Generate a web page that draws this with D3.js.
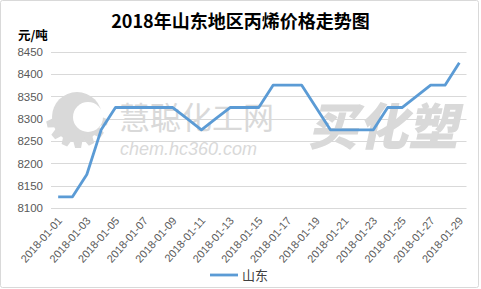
<!DOCTYPE html>
<html>
<head>
<meta charset="utf-8">
<script src="https://cdn.jsdelivr.net/npm/d3@7"></script>
<style>
  html, body { margin: 0; padding: 0; background: #fff; }
  svg { display: block; }
</style>
</head>
<body>
<div id="chart"></div>
<script>
// data
const dates = [
  '2018-01-01','2018-01-02','2018-01-03','2018-01-04','2018-01-05','2018-01-06',
  '2018-01-07','2018-01-08','2018-01-09','2018-01-10','2018-01-11','2018-01-12',
  '2018-01-13','2018-01-14','2018-01-15','2018-01-16','2018-01-17','2018-01-18',
  '2018-01-19','2018-01-20','2018-01-21','2018-01-22','2018-01-23','2018-01-24',
  '2018-01-25','2018-01-26','2018-01-27','2018-01-28','2018-01-29'
];
const shandong = [
  8125, 8125, 8175, 8275, 8325, 8325, 8325, 8325, 8325, 8300,
  8275, 8300, 8325, 8325, 8325, 8375, 8375, 8375, 8325, 8275,
  8275, 8275, 8275, 8325, 8325, 8350, 8375, 8375, 8425
];
const yTicks = [8100, 8150, 8200, 8250, 8300, 8350, 8400, 8450];
const title = '2018年山东地区丙烯价格走势图';
const unit = '元/吨';
const seriesName = '山东';

const width = 481, height = 289;
const plot = { left: 51, right: 466.5, top: 51.7, bottom: 208 };

const svg = d3.select('#chart').append('svg')
  .attr('width', width)
  .attr('height', height)
  .style('font-family', '"Noto Sans CJK SC", "Liberation Sans", sans-serif');

// outer frame
svg.append('rect')
  .attr('x', 0.5).attr('y', 0.5)
  .attr('width', width - 3).attr('height', height - 2)
  .attr('rx', 2)
  .attr('fill', '#fff')
  .attr('stroke', '#d9d9d9');

const x = d3.scalePoint()
  .domain(dates)
  .range([plot.left, plot.right])
  .padding(0.5);

const y = d3.scaleLinear()
  .domain([8100, 8450])
  .range([plot.bottom, plot.top]);

// gridlines
svg.append('g')
  .selectAll('line')
  .data(yTicks)
  .join('line')
  .attr('x1', plot.left).attr('x2', plot.right)
  .attr('y1', d => Math.round(y(d)) + 0.5)
  .attr('y2', d => Math.round(y(d)) + 0.5)
  .attr('stroke', '#d9d9d9')
  .attr('stroke-width', 1);

// watermark
const wm = svg.append('g').attr('fill', '#d9d9d9');
wm.append('circle').attr('cx', 77).attr('cy', 117).attr('r', 25);
wm.selectAll('path.tooth')
  .data(d3.range(7))
  .join('path')
  .attr('class', 'tooth')
  .attr('transform', i => `translate(77,117) rotate(${100 + i * 26})`)
  .attr('d', 'M-5,-22 L5,-22 L3,-31 L-3,-31 Z');
wm.append('circle').attr('cx', 88).attr('cy', 117).attr('r', 15).attr('fill', '#fff');
wm.append('text')
  .attr('x', 119).attr('y', 129)
  .style('font-size', '31px')
  .style('font-family', '"Noto Sans CJK SC", sans-serif')
  .style('font-weight', 400)
  .text('慧聪化工网');
wm.append('text')
  .attr('x', 120).attr('y', 155)
  .style('font-size', '18px')
  .style('font-style', 'italic')
  .style('font-family', '"Liberation Sans", sans-serif')
  .text('chem.hc360.com');
wm.append('text')
  .attr('transform', 'translate(308,145) skewX(-12)')
  .style('font-size', '50px')
  .style('font-weight', 900)
  .style('font-family', '"Noto Sans CJK SC", sans-serif')
  .text('买化塑');

// line
const line = d3.line()
  .x((d, i) => x(dates[i]))
  .y(d => y(d));

svg.append('path')
  .datum(shandong)
  .attr('fill', 'none')
  .attr('stroke', '#5b9bd5')
  .attr('stroke-width', 2.8)
  .attr('stroke-linejoin', 'round')
  .attr('d', line);

// y axis labels
const yAxis = d3.axisLeft(y)
  .tickValues(yTicks)
  .tickFormat(d3.format('d'))
  .tickSize(0)
  .tickPadding(8);
const yg = svg.append('g')
  .attr('transform', `translate(${plot.left},0)`)
  .call(yAxis);
yg.select('.domain').remove();
yg.selectAll('text')
  .attr('fill', '#595959')
  .style('font-size', '11.5px')
  .style('font-family', '"Liberation Sans", sans-serif');

// x axis labels (every second day)
const xAxis = d3.axisBottom(x)
  .tickValues(dates.filter((d, i) => i % 2 === 0))
  .tickSize(0);
const xg = svg.append('g')
  .attr('transform', `translate(0,${plot.bottom})`)
  .call(xAxis);
xg.select('.domain').remove();
xg.selectAll('text')
  .attr('fill', '#595959')
  .style('font-size', '11px')
  .style('font-family', '"Liberation Sans", sans-serif')
  .attr('text-anchor', 'end')
  .attr('dy', 0)
  .attr('y', 0)
  .attr('transform', 'translate(4,13) rotate(-49)');

// title and unit
svg.append('text')
  .attr('x', 240.5).attr('y', 28)
  .attr('text-anchor', 'middle')
  .style('font-size', '18px')
  .style('font-weight', 'bold')
  .attr('fill', '#000')
  .text(title);

svg.append('text')
  .attr('x', 18).attr('y', 40)
  .style('font-size', '12.5px')
  .style('font-weight', 'bold')
  .attr('fill', '#000')
  .text(unit);

// legend
const lg = svg.append('g');
lg.append('line')
  .attr('x1', 210).attr('x2', 238)
  .attr('y1', 275).attr('y2', 275)
  .attr('stroke', '#5b9bd5')
  .attr('stroke-width', 2.8);
lg.append('text')
  .attr('x', 242).attr('y', 280)
  .style('font-size', '13px')
  .attr('fill', '#404040')
  .text(seriesName);
</script>
</body>
</html>
